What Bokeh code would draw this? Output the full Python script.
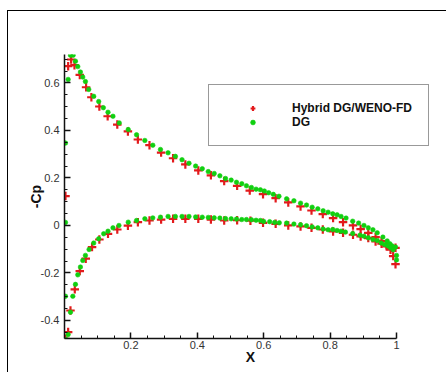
from bokeh.plotting import figure
from bokeh.models import Range1d, FixedTicker, NumeralTickFormatter
from bokeh.embed import file_html
from bokeh.resources import INLINE

# ---------------- data ----------------
hyb_x_upper = [0.003, 0.011, 0.020, 0.030, 0.046, 0.065, 0.081, 0.105, 0.130, 0.159,
               0.191, 0.221, 0.256, 0.291, 0.327, 0.364, 0.403, 0.441, 0.481, 0.520,
               0.558, 0.598, 0.636, 0.674, 0.711, 0.744, 0.778, 0.809, 0.839, 0.869,
               0.892, 0.915, 0.937, 0.955, 0.970, 0.984, 0.997]
hyb_cp_upper = [0.124, 0.671, 0.699, 0.675, 0.634, 0.582, 0.540, 0.501, 0.460, 0.425,
                0.396, 0.362, 0.338, 0.307, 0.283, 0.257, 0.232, 0.211, 0.187, 0.167,
                0.147, 0.132, 0.115, 0.097, 0.080, 0.063, 0.048, 0.031, 0.014, 0.000,
                -0.015, -0.031, -0.049, -0.066, -0.080, -0.094, -0.094]

hyb_x_lower = [0.003, 0.011, 0.018, 0.031, 0.046, 0.064, 0.083, 0.105, 0.131, 0.159,
               0.191, 0.221, 0.256, 0.291, 0.327, 0.364, 0.403, 0.441, 0.481, 0.520,
               0.560, 0.598, 0.636, 0.674, 0.711, 0.744, 0.778, 0.809, 0.839, 0.869,
               0.892, 0.915, 0.937, 0.955, 0.970, 0.982, 0.990, 0.997]
hyb_cp_lower = [-0.477, -0.449, -0.358, -0.269, -0.192, -0.140, -0.091, -0.059, -0.035, -0.017,
                -0.001, 0.014, 0.021, 0.025, 0.028, 0.028, 0.028, 0.025, 0.021, 0.022,
                0.020, 0.011, 0.007, 0.000, -0.004, -0.010, -0.017, -0.025, -0.031, -0.039,
                -0.046, -0.053, -0.067, -0.077, -0.088, -0.102, -0.129, -0.163]

dg_x_upper = [0.003, 0.011, 0.018, 0.026, 0.033, 0.040, 0.048, 0.055, 0.063, 0.073,
              0.088, 0.103, 0.117, 0.131, 0.146, 0.165, 0.192, 0.217, 0.242, 0.266,
              0.289, 0.312, 0.334, 0.354, 0.375, 0.395, 0.415, 0.433, 0.451, 0.468,
              0.485, 0.502, 0.518, 0.534, 0.548, 0.563, 0.577, 0.590, 0.602, 0.615,
              0.629, 0.646, 0.669, 0.691, 0.711, 0.729, 0.746, 0.763, 0.779, 0.794,
              0.808, 0.821, 0.833, 0.848, 0.868, 0.886, 0.902, 0.915, 0.929, 0.942,
              0.959, 0.972, 0.980, 0.987, 0.997]
dg_cp_upper = [0.347, 0.615, 0.717, 0.717, 0.692, 0.669, 0.646, 0.625, 0.606, 0.573,
               0.544, 0.522, 0.496, 0.477, 0.460, 0.432, 0.404, 0.382, 0.358, 0.338,
               0.320, 0.306, 0.291, 0.277, 0.262, 0.250, 0.239, 0.227, 0.219, 0.209,
               0.198, 0.191, 0.182, 0.176, 0.167, 0.160, 0.153, 0.150, 0.145, 0.138,
               0.131, 0.123, 0.112, 0.104, 0.094, 0.086, 0.077, 0.070, 0.062, 0.056,
               0.049, 0.045, 0.038, 0.031, 0.018, 0.010, 0.000, -0.010, -0.018, -0.031,
               -0.049, -0.065, -0.077, -0.086, -0.091]

dg_x_lower = [0.003, 0.003, 0.005, 0.011, 0.018, 0.025, 0.033, 0.040, 0.048, 0.055,
              0.063, 0.074, 0.088, 0.103, 0.118, 0.131, 0.146, 0.164, 0.192, 0.217,
              0.242, 0.266, 0.289, 0.312, 0.334, 0.354, 0.375, 0.395, 0.415, 0.433,
              0.451, 0.468, 0.485, 0.502, 0.518, 0.534, 0.548, 0.563, 0.577, 0.590,
              0.600, 0.618, 0.633, 0.647, 0.669, 0.691, 0.711, 0.729, 0.746, 0.763,
              0.779, 0.794, 0.808, 0.821, 0.833, 0.846, 0.868, 0.890, 0.902, 0.915,
              0.929, 0.942, 0.954, 0.964, 0.974, 0.982, 0.990, 1.000, 1.000]
dg_cp_lower = [0.013, -0.298, -0.480, -0.459, -0.365, -0.298, -0.248, -0.208, -0.175, -0.147,
               -0.126, -0.101, -0.074, -0.056, -0.035, -0.024, -0.010, 0.000, 0.014, 0.021,
               0.028, 0.032, 0.035, 0.038, 0.038, 0.038, 0.038, 0.036, 0.035, 0.034,
               0.032, 0.031, 0.029, 0.028, 0.027, 0.025, 0.025, 0.024, 0.022, 0.021,
               0.017, 0.016, 0.013, 0.011, 0.010, 0.006, 0.003, -0.001, -0.006, -0.010,
               -0.015, -0.018, -0.017, -0.021, -0.024, -0.028, -0.034, -0.041, -0.045, -0.052,
               -0.059, -0.063, -0.074, -0.080, -0.086, -0.094, -0.102, -0.126, -0.145]

x_major = [0.2, 0.4, 0.6, 0.8, 1.0]
y_major = [-0.4, -0.2, 0.0, 0.2, 0.4, 0.6]
x_label = "X"
y_label = "-Cp"
series_names = ["Hybrid DG/WENO-FD", "DG"]

RED = "#e31a1c"
GREEN = "#10d010"
FONT = "Liberation Sans"

p = figure(width=439, height=362, output_backend="svg", toolbar_location=None,
           x_range=Range1d(0, 372 / 332), y_range=Range1d(-0.476, 0.72),
           min_border_left=56, min_border_right=11, min_border_top=43, min_border_bottom=35)
p.styles = {"margin-left": "7px", "margin-top": "10px",
            "border-left": "1px solid #000", "border-top": "1px solid #000"}
p.outline_line_color = None
p.xgrid.visible = False
p.ygrid.visible = False
p.background_fill_color = "white"
p.border_fill_color = "white"

p.scatter(hyb_x_upper + hyb_x_lower, hyb_cp_upper + hyb_cp_lower, marker="cross", size=8.5,
          line_color=RED, line_width=2.2, legend_label=series_names[0])
p.scatter(dg_x_upper + dg_x_lower, dg_cp_upper + dg_cp_lower, marker="circle", size=4.5,
          fill_color=GREEN, line_color=GREEN, line_width=0.6, legend_label=series_names[1])

x_minor = [round(0.05 * i, 2) for i in range(1, 20)]
y_minor = [round(-0.45 + 0.05 * i, 2) for i in range(0, 24)]

for ax, ticks, minors, lab in ((p.xaxis[0], x_major, x_minor, x_label),
                               (p.yaxis[0], y_major, y_minor, y_label)):
    ax.ticker = FixedTicker(ticks=ticks, minor_ticks=minors)
    ax.formatter = NumeralTickFormatter(format="0.[0]")
    ax.axis_label = lab
    ax.axis_line_width = 1.5
    ax.axis_line_color = "#111"
    ax.major_tick_in = 6
    ax.major_tick_out = 0
    ax.minor_tick_in = 3
    ax.minor_tick_out = 0
    ax.major_tick_line_width = 1.5
    ax.minor_tick_line_width = 1
    ax.major_tick_line_color = "#111"
    ax.minor_tick_line_color = "#111"
    ax.major_label_text_font = FONT
    ax.major_label_text_font_size = "11px"
    ax.major_label_text_color = "#333"
    ax.axis_label_text_font = FONT
    ax.axis_label_text_font_size = "14px"
    ax.axis_label_text_font_style = "bold"
    ax.axis_label_text_color = "#111"

p.xaxis[0].bounds = (0, 1)
p.xaxis[0].major_label_standoff = 2
p.xaxis[0].axis_label_standoff = -3
p.yaxis[0].major_label_standoff = 5
p.yaxis[0].axis_label_standoff = -6

lg = p.legend[0]
lg.location = (144, 192)
lg.border_line_color = "#333"
lg.border_line_width = 1.5
lg.background_fill_color = "white"
lg.background_fill_alpha = 1.0
lg.padding = 16
lg.spacing = 0
lg.glyph_width = 55
lg.glyph_height = 12
lg.label_height = 12
lg.label_standoff = 12
lg.label_text_font = FONT
lg.label_text_font_size = "12px"
lg.label_text_font_style = "bold"
lg.label_text_color = "#111"

open("out.html", "w").write(file_html(p, INLINE))
